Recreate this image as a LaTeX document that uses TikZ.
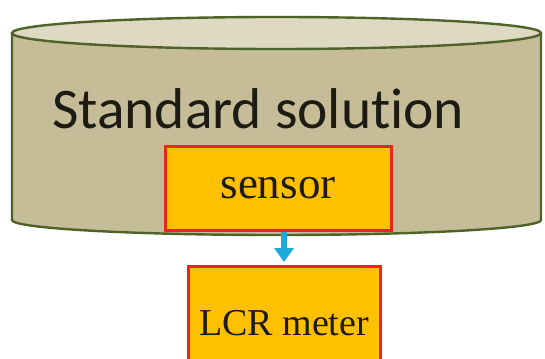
\documentclass[tikz,border=0pt]{standalone}
\usepackage{fontspec}
\setmainfont{Liberation Serif}
\newfontfamily\calib[Ligatures={NoCommon}]{Carlito}
\usetikzlibrary{arrows.meta}
\definecolor{cylfill}{HTML}{C4BD97}
\definecolor{cyltop}{HTML}{DDD9C3}
\definecolor{cylline}{HTML}{4F6228}
\definecolor{boxfill}{HTML}{FFC000}
\definecolor{boxline}{HTML}{E8261A}
\definecolor{arrowcol}{HTML}{1EAAD8}
\definecolor{txt}{HTML}{1E1A14}
\tikzset{
  cyl/.style={draw=cylline, line width=2.4pt},
  orangebox/.style={draw=boxline, fill=boxfill, line width=3pt, rectangle, inner sep=0pt, text=txt},
  flowarrow/.style={draw=arrowcol, line width=5.5pt, -{Triangle[width=19pt,length=14pt]}, shorten >=3pt},
}
\begin{document}
\begin{tikzpicture}[x=1pt,y=-1pt]
\clip (0,0) rectangle (545,358);
\fill[white] (0,0) rectangle (545,358);
% cylinder body
\path[fill=cylfill] (12,33) -- (12,220) arc[start angle=180, end angle=0, x radius=264.5, y radius=15] -- (541,33) -- cycle;
\draw[cyl] (12,33) -- (12,220) arc[start angle=180, end angle=0, x radius=264.5, y radius=15] -- (541,33);
% top ellipse
\draw[cyl, fill=cyltop] (276.5,33) ellipse [x radius=264.5, y radius=16];
% label
\node[anchor=base west, inner sep=0pt, text=txt, font=\calib\fontsize{57.5}{60}\selectfont] (std) at (52,129) {Standard solution};
% sensor
\node[orangebox, minimum width=226pt, minimum height=83pt, font=\fontsize{45}{48}\selectfont] (sensor) at (278,188.5) {\raisebox{-4pt}{sensor}};
% LCR meter
\node[orangebox, anchor=north, minimum width=192pt, minimum height=130pt, font=\fontsize{38}{40}\selectfont] (lcr) at (284,265) {\raisebox{17pt}{LCR meter}};
% arrow
\draw[flowarrow] (lcr.north |- sensor.south) -- (lcr.north);
\end{tikzpicture}
\end{document}
